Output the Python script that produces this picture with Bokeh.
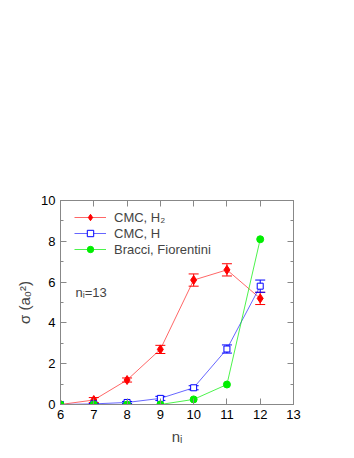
from bokeh.plotting import figure
from bokeh.models import (ColumnDataSource, Whisker, LinearAxis, FixedTicker,
                          Legend, LegendItem, Label, Range1d, TeeHead,
                          CustomJSTickFormatter)
from bokeh.embed import file_html
from bokeh.resources import INLINE

n_i = [6, 7, 8, 9, 10, 11, 12]
h2_vals = [0.0, 0.22, 1.2, 2.7, 6.1, 6.6, 5.2]
h2_err = [0.0, 0.12, 0.1, 0.2, 0.3, 0.3, 0.3]
h_vals = [0.0, 0.03, 0.1, 0.3, 0.82, 2.72, 5.8]
h_err = [0.0, 0.02, 0.05, 0.1, 0.1, 0.2, 0.3]
bf_vals = [0.0, 0.0, 0.0, 0.0, 0.25, 0.98, 8.1]
x_ticks = [6, 7, 8, 9, 10, 11, 12, 13]
y_ticks = [0, 2, 4, 6, 8, 10]
y_minor = [1, 3, 5, 7, 9]

FONT = "Liberation Sans"

p = figure(width=346, height=450, output_backend="svg", toolbar_location=None,
           x_range=Range1d(6, 13), y_range=Range1d(0, 10),
           min_border_left=60, min_border_right=53, min_border_top=200,
           min_border_bottom=46)
p.grid.visible = False
p.outline_line_color = "#888888"
p.background_fill_color = "white"
p.border_fill_color = "white"

def style_axis(ax, labels=True):
    ax.axis_line_color = "#888888"
    ax.major_tick_line_color = "#888888"
    ax.minor_tick_line_color = "#888888"
    ax.major_tick_in = 6
    ax.major_tick_out = 0
    ax.minor_tick_in = 3
    ax.minor_tick_out = 0
    ax.major_label_text_font = FONT
    ax.major_label_text_font_size = "13px"
    ax.major_label_text_color = "black"
    if not labels:
        ax.formatter = CustomJSTickFormatter(code="return ''")
        ax.major_label_standoff = 0

p.xaxis.ticker = FixedTicker(ticks=x_ticks)
p.yaxis.ticker = FixedTicker(ticks=y_ticks, minor_ticks=y_minor)
style_axis(p.xaxis[0])
style_axis(p.yaxis[0])
p.xaxis.axis_label = "nᵢ"
p.yaxis.axis_label = "σ (a₀²)"
for ax in (p.xaxis[0], p.yaxis[0]):
    ax.axis_label_text_font = FONT
    ax.axis_label_text_font_style = "normal"
    ax.axis_label_text_font_size = "15px"
p.xaxis.axis_label_standoff = 6
p.yaxis.axis_label_standoff = 5

top = LinearAxis(ticker=FixedTicker(ticks=x_ticks))
style_axis(top, labels=False)
p.add_layout(top, "above")
right = LinearAxis(ticker=FixedTicker(ticks=y_ticks, minor_ticks=y_minor))
style_axis(right, labels=False)
p.add_layout(right, "right")

src_h2 = ColumnDataSource(dict(x=n_i, y=h2_vals,
                               lo=[v - e for v, e in zip(h2_vals, h2_err)],
                               hi=[v + e for v, e in zip(h2_vals, h2_err)]))
src_h = ColumnDataSource(dict(x=n_i, y=h_vals,
                              lo=[v - e for v, e in zip(h_vals, h_err)],
                              hi=[v + e for v, e in zip(h_vals, h_err)]))
src_bf = ColumnDataSource(dict(x=n_i, y=bf_vals))

RED, BLUE, GREEN = "#ff0000", "#0000ff", "#00ee00"

l1 = p.line("x", "y", source=src_h2, color=RED, line_width=1, alpha=0.6)
m1 = p.scatter("x", "y", source=src_h2, marker="diamond", size=9, color=RED)
wr = Whisker(source=src_h2, base="x", upper="hi", lower="lo",
             line_color=RED, line_width=1)
wr.upper_head = TeeHead(size=10, line_color=RED)
wr.lower_head = TeeHead(size=10, line_color=RED)
p.add_layout(wr)

l2 = p.line("x", "y", source=src_h, color=BLUE, line_width=1, alpha=0.6)
m2 = p.scatter("x", "y", source=src_h, marker="square", size=6,
               line_color=BLUE, fill_color="white")
wh = Whisker(source=src_h, base="x", upper="hi", lower="lo", line_color=BLUE,
             line_width=1)
wh.upper_head = TeeHead(size=10, line_color=BLUE)
wh.lower_head = TeeHead(size=10, line_color=BLUE)
p.add_layout(wh)

l3 = p.line("x", "y", source=src_bf, color=GREEN, line_width=1, alpha=0.7)
m3 = p.scatter("x", "y", source=src_bf, marker="circle", size=7, color=GREEN)

legend = Legend(items=[
    LegendItem(label="CMC, H₂", renderers=[l1, m1]),
    LegendItem(label="CMC, H", renderers=[l2, m2]),
    LegendItem(label="Bracci, Fiorentini", renderers=[l3, m3]),
], location=(14, 147))
legend.border_line_color = None
legend.background_fill_alpha = 0
legend.label_text_font = FONT
legend.label_text_font_size = "13px"
legend.glyph_width = 32
legend.glyph_height = 16
legend.label_height = 16
legend.label_standoff = 8
legend.spacing = 0
legend.padding = 0
legend.margin = 0
p.add_layout(legend)

p.add_layout(Label(x=6.45, y=5.5, text="nᵢ=13", text_font=FONT,
                   text_font_size="13px", text_baseline="middle"))

open("out.html", "w").write(file_html(p, INLINE))
